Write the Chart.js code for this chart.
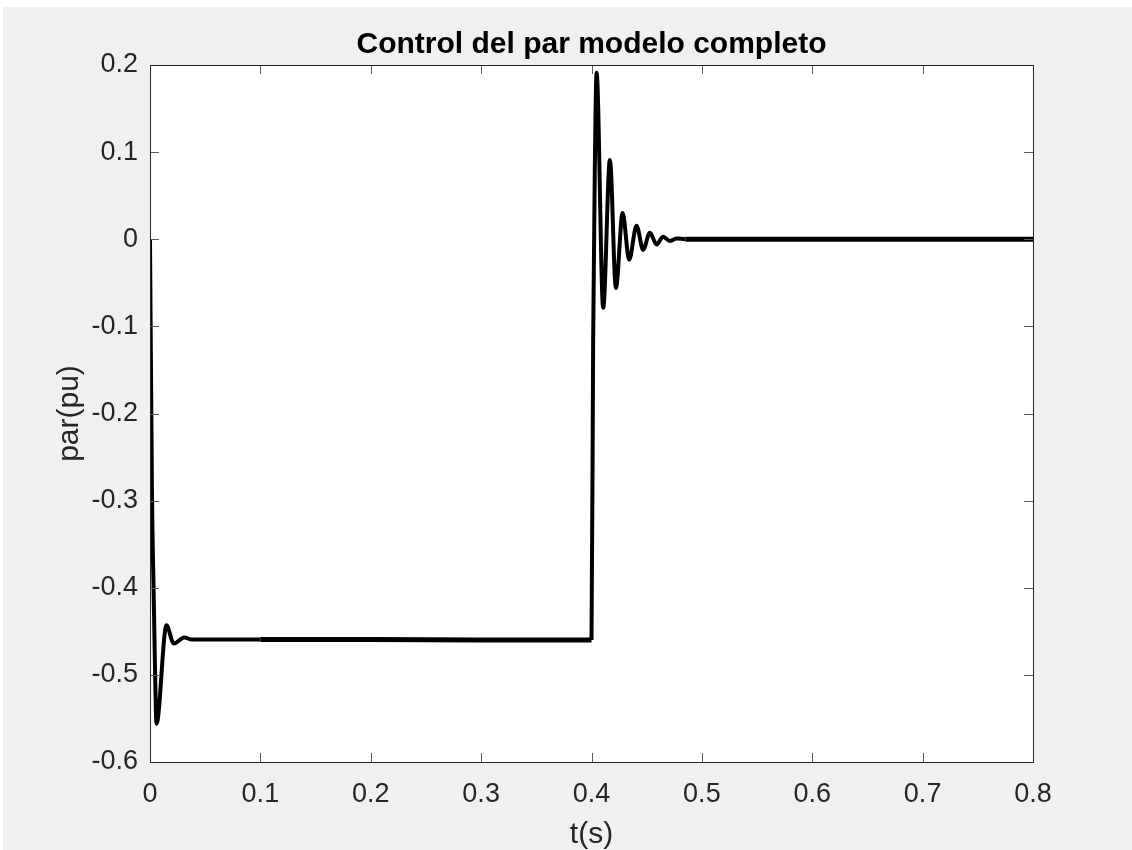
<!DOCTYPE html>
<html>
<head>
<meta charset="utf-8">
<script src="https://cdn.jsdelivr.net/npm/chart.js@4.4.1/dist/chart.umd.min.js"></script>
<style>
  html, body { margin: 0; padding: 0; background: #ffffff; }
  #frame { position: absolute; left: 3px; top: 7px; width: 1129px; height: 843px; background: #f0f0f0; }
  canvas { display: block; }
</style>
</head>
<body>
<div id="frame"><canvas id="c" width="1129" height="843"></canvas></div>
<script>
// Simulated torque response of the full machine model (time in s, torque in pu)
const timeS = [
  0, 0.0018, 0.0034, 0.0045, 0.0059, 0.0149, 0.0215, 0.031, 0.038, 0.045,
  0.1, 0.2, 0.3, 0.4,
  0.4015, 0.403, 0.4046, 0.4106, 0.4167, 0.4221, 0.4282, 0.4341, 0.4408,
  0.4468, 0.4529, 0.4590, 0.4649, 0.471, 0.477, 0.485, 0.6, 0.8
];
const torquePu = [
  0, -0.293, -0.412, -0.49, -0.556, -0.443, -0.464, -0.457, -0.4595, -0.4595,
  -0.4595, -0.4595, -0.46, -0.46,
  -0.115, 0.08, 0.191, -0.0785, 0.091, -0.056, 0.030, -0.0235, 0.0155,
  -0.012, 0.0075, -0.006, 0.003, -0.002, 0.001, 0, 0, 0
];

// Axis ranges and tick spacing
const xRange = [0, 0.8];
const yRange = [-0.6, 0.2];
const tickStep = 0.1;

const titleText = 'Control del par modelo completo';
const xLabel = 't(s)';
const yLabel = 'par(pu)';

const points = timeS.map((t, i) => ({ x: t, y: torquePu[i] }));

const FONT = "'Liberation Sans', Arial, Helvetica, sans-serif";
const AXIS_COLOR = '#262626';

function fmt(v) {
  const r = Math.round(v * 10) / 10;
  return r === 0 ? '0' : r.toFixed(1);
}

// White plot box, then the frame and inward tick marks on all four sides
const boxPlugin = {
  id: 'box',
  beforeDraw(chart) {
    const a = chart.chartArea, ctx = chart.ctx;
    ctx.save();
    ctx.fillStyle = '#ffffff';
    ctx.fillRect(a.left, a.top, a.right - a.left, a.bottom - a.top);
    ctx.restore();
  },
  afterDraw(chart) {
    const a = chart.chartArea, ctx = chart.ctx;
    const xs = chart.scales.x, ys = chart.scales.y;
    const len = 9;
    ctx.save();
    ctx.lineWidth = 1;
    ctx.strokeStyle = '#5a5a5a';
    ctx.beginPath();
    xs.ticks.forEach(t => {
      const px = Math.round(xs.getPixelForValue(t.value)) + 0.5;
      ctx.moveTo(px, a.bottom); ctx.lineTo(px, a.bottom - len);
      ctx.moveTo(px, a.top); ctx.lineTo(px, a.top + len);
    });
    ys.ticks.forEach(t => {
      const py = Math.round(ys.getPixelForValue(t.value)) + 0.5;
      ctx.moveTo(a.left, py); ctx.lineTo(a.left + len, py);
      ctx.moveTo(a.right, py); ctx.lineTo(a.right - len, py);
    });
    ctx.stroke();
    ctx.strokeStyle = AXIS_COLOR;
    ctx.strokeRect(Math.round(a.left) + 0.5, Math.round(a.top) + 0.5,
                   Math.round(a.right - a.left), Math.round(a.bottom - a.top));
    ctx.restore();
  }
};

new Chart(document.getElementById('c'), {
  type: 'line',
  data: {
    datasets: [{
      data: points,
      borderColor: '#000000',
      borderWidth: 4,
      pointRadius: 0,
      cubicInterpolationMode: 'monotone',
      segment: {
        borderWidth: ctx => {
          const x0 = ctx.p0.parsed.x, x1 = ctx.p1.parsed.x;
          return ((x0 >= 0.1 && x1 <= 0.4) || x0 >= 0.485) ? 5 : 4;
        }
      }
    }]
  },
  options: {
    responsive: false,
    animation: false,
    layout: { padding: { left: 0, right: 99, top: 0, bottom: 0 } },
    plugins: {
      legend: { display: false },
      tooltip: { enabled: false },
      title: {
        display: true,
        fullSize: false,
        text: titleText,
        color: '#000000',
        font: { family: FONT, size: 30, weight: 'bold' },
        padding: { top: 20, bottom: 2 }
      }
    },
    scales: {
      x: {
        type: 'linear',
        min: xRange[0], max: xRange[1],
        afterFit: s => { s.height = 88; },
        grid: { display: false, drawTicks: false },
        border: { display: false },
        ticks: {
          stepSize: tickStep,
          color: AXIS_COLOR,
          padding: 16,
          maxRotation: 0,
          font: { family: FONT, size: 27 },
          callback: v => fmt(v)
        },
        title: {
          display: true, text: xLabel, color: AXIS_COLOR,
          font: { family: FONT, size: 30, lineHeight: 1 },
          padding: { top: 0, bottom: 0 }
        }
      },
      y: {
        type: 'linear',
        min: yRange[0], max: yRange[1],
        afterFit: s => { s.width = 147; },
        grid: { display: false, drawTicks: false },
        border: { display: false },
        ticks: {
          stepSize: tickStep,
          color: AXIS_COLOR,
          padding: 12,
          font: { family: FONT, size: 27 },
          callback: v => fmt(v)
        },
        title: {
          display: true, text: yLabel, color: AXIS_COLOR,
          font: { family: FONT, size: 30 },
          padding: { top: 49, bottom: 0 }
        }
      }
    }
  },
  plugins: [boxPlugin]
});
</script>
</body>
</html>
